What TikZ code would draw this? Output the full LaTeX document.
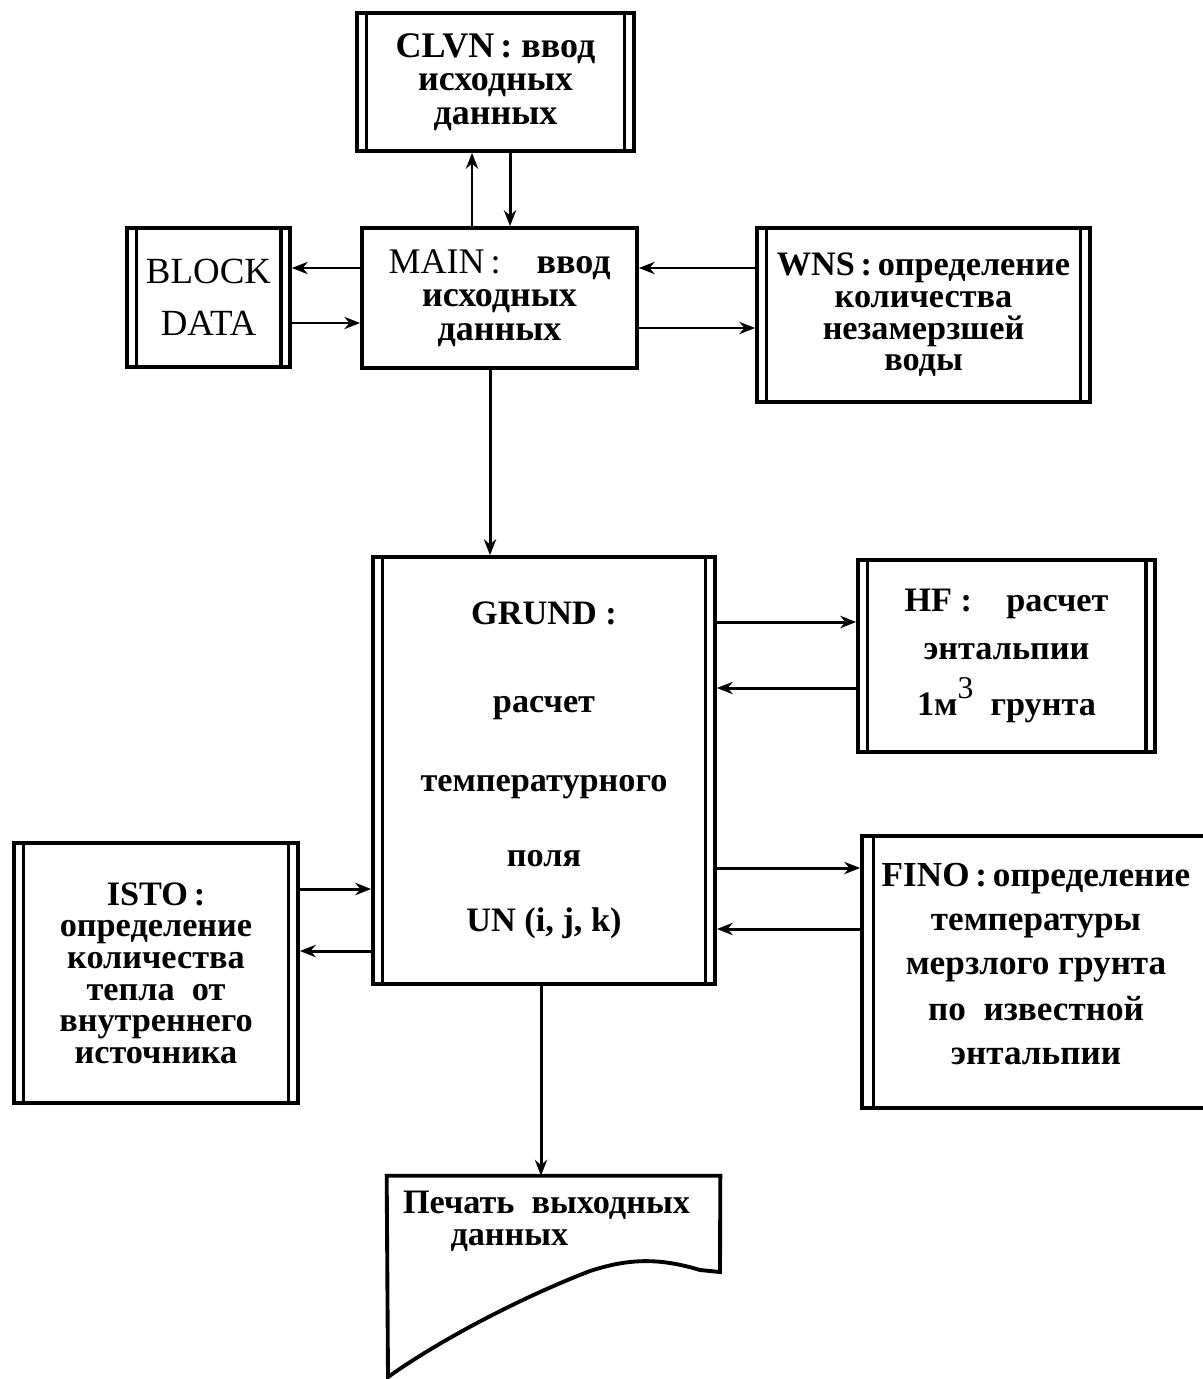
\documentclass[tikz,border=0pt]{standalone}
\usepackage{fontspec}
\setmainfont{Liberation Serif}
\usetikzlibrary{arrows.meta}

\begin{document}
\begin{tikzpicture}[x=0.02cm, y=-0.02cm,
    blk/.style={draw, line width=2.2pt, inner sep=0pt, align=center,
        font=\fontsize{20.5}{19}\selectfont\bfseries},
    small/.style={font=\fontsize{19.5}{18}\selectfont\bfseries},
    big/.style={font=\fontsize{21}{18}\selectfont\bfseries},
    arr/.style={line width=1.7pt, -{Stealth[length=9pt,width=7pt]}},
    inner/.style={line width=1.8pt}]
            \useasboundingbox (0,0) rectangle (1203,1379);
            \clip (0,0) rectangle (1203,1379);

            \node[blk, minimum width=5.54cm, minimum height=2.76cm] (clvn) at (495.5,82) {CLVN\,:\ ввод\\исходных\\данных};
            \node[blk, minimum width=5.5cm, minimum height=2.8cm] (main) at (499.5,298) {{\mdseries MAIN\,:}\quad ввод\\исходных\\данных};
            \node[blk, big, minimum width=3.26cm, minimum height=2.78cm] (block) at (208.5,297.5) {\mdseries BLOCK\\[0.4cm]\mdseries DATA};
            \node[blk, small, minimum width=6.66cm, minimum height=3.48cm] (wns) at (923.5,315) {WNS\,:\,определение\\количества\\незамерзшей\\воды};
            \node[blk, small, minimum width=6.84cm, minimum height=8.54cm] (grund) at (544,770.5) {GRUND :\\[1.12cm]расчет\\[0.95cm]температурного\\[0.87cm]поля\\[0.67cm]UN (i, j, k)};
            \node[blk, small, minimum width=5.94cm, minimum height=3.84cm] (hf) at (1006.5,656) {HF :\quad расчет\\[0.33cm]энтальпии\\[0.33cm]1м\raisebox{0.5em}{\fontsize{18}{18}\selectfont\mdseries 3}\ \ грунта};
            \node[blk, small, minimum width=5.68cm, minimum height=5.2cm] (isto) at (156,973) {ISTO\,:\\определение\\количества\\тепла\ \ от\\внутреннего\\источника};
            \node[blk, minimum width=6.96cm, minimum height=5.44cm, font=\fontsize{20}{18}\selectfont\bfseries] (fino) at (1036,972) {FINO\,:\,определение\\[0.25cm]температуры\\[0.25cm]мерзлого грунта\\[0.25cm]по\ \ известной\\[0.25cm]энтальпии\\[-0.3cm]};
            \node[minimum width=6.66cm, minimum height=4.06cm, inner sep=0pt] (print) at (553.5,1277.5) {};
            \node[anchor=north west, align=left, inner sep=0pt, font=\fontsize{19.5}{18}\selectfont\bfseries] (printtxt) at ([xshift=0.32cm, yshift=-0.3cm]print.north west) {Печать\ \ выходных\\\hspace*{0.95cm}данных};

            \draw[line width=2.2pt] (print.north west) -- (print.north east) -- (720,1272) -- (700,1270)
                .. controls (660,1258) and (630,1258) .. (590,1271)
                .. controls (520,1298) and (440,1340) .. (388,1377) -- cycle;

            \foreach \n in {clvn,block,wns,grund,hf,isto}{
                \draw[inner] ([xshift=0.22cm]\n.north west) -- ([xshift=0.22cm]\n.south west);
                \draw[inner] ([xshift=-0.22cm]\n.north east) -- ([xshift=-0.22cm]\n.south east);
            }
            \draw[inner] ([xshift=0.26cm]fino.north west) -- ([xshift=0.26cm]fino.south west);

            \draw[arr] (main.north -| 472,0) -- (clvn.south -| 472,0);
            \draw[arr] (clvn.south -| 510,0) -- (main.north -| 510,0);
            \draw[arr] (main.west |- 0,268) -- (block.east |- 0,268);
            \draw[arr] (block.east |- 0,323) -- (main.west |- 0,323);
            \draw[arr] (wns.west |- 0,268) -- (main.east |- 0,268);
            \draw[arr] (main.east |- 0,328) -- (wns.west |- 0,328);
            \draw[arr] (main.south -| 490,0) -- (grund.north -| 490,0);
            \draw[arr] (grund.east |- 0,622) -- (hf.west |- 0,622);
            \draw[arr] (hf.west |- 0,688) -- (grund.east |- 0,688);
            \draw[arr] (grund.east |- 0,868) -- (fino.west |- 0,868);
            \draw[arr] (fino.west |- 0,929) -- (grund.east |- 0,929);
            \draw[arr] (isto.east |- 0,889) -- (grund.west |- 0,889);
            \draw[arr] (grund.west |- 0,951) -- (isto.east |- 0,951);
            \draw[arr] (grund.south -| 541,0) -- (print.north -| 541,0);
\end{tikzpicture}
\end{document}
